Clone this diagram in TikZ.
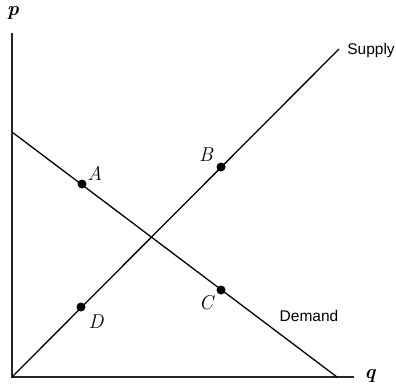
\documentclass[tikz,border=0pt]{standalone}
\usepackage{fontspec}
\newfontfamily\labelsans{Liberation Sans}
\begin{document}
\begin{tikzpicture}[x=1pt,y=-1pt,
  axis/.style={line width=1.2pt, black!85},
  curve/.style={line width=1.3pt, black},
  dot/.style={circle, fill=black, inner sep=0pt, minimum size=9pt},
  ptlabel/.style={font=\fontsize{20}{20}\selectfont\itshape},
  axlabel/.style={font=\fontsize{20}{20}\selectfont\itshape\bfseries},
  curvelabel/.style={font=\labelsans\fontsize{15.5}{15.5}\selectfont}]
\useasboundingbox (0,0) rectangle (396,386);
\coordinate (O) at (12,377);
\coordinate (ytop) at (12,33);
\coordinate (xend) at (354,377);
\coordinate (s1) at (339,49);
\coordinate (d0) at (12,132);
\coordinate (d1) at (337,377);
\draw[axis] (ytop) -- (O) -- (xend);
\draw[curve] (O) -- (s1);
\draw[curve] (d0) -- (d1);
\node[axlabel] (p) at (13,13) {p};
\node[axlabel] (q) at (370,376) {q};
\node[curvelabel] (sup) at (371,50) {Supply};
\node[curvelabel] (dem) at (309,316) {Demand};
\node[dot] (A) at (82,184) {};
\node[dot] (B) at (221,167) {};
\node[dot] (C) at (221,290) {};
\node[dot] (D) at (81,307) {};
\node[ptlabel] (lA) at (95,173) {A};
\node[ptlabel] (lB) at (206,155) {B};
\node[ptlabel] (lC) at (206,303) {C};
\node[ptlabel] (lD) at (96,322) {D};
\end{tikzpicture}
\end{document}
